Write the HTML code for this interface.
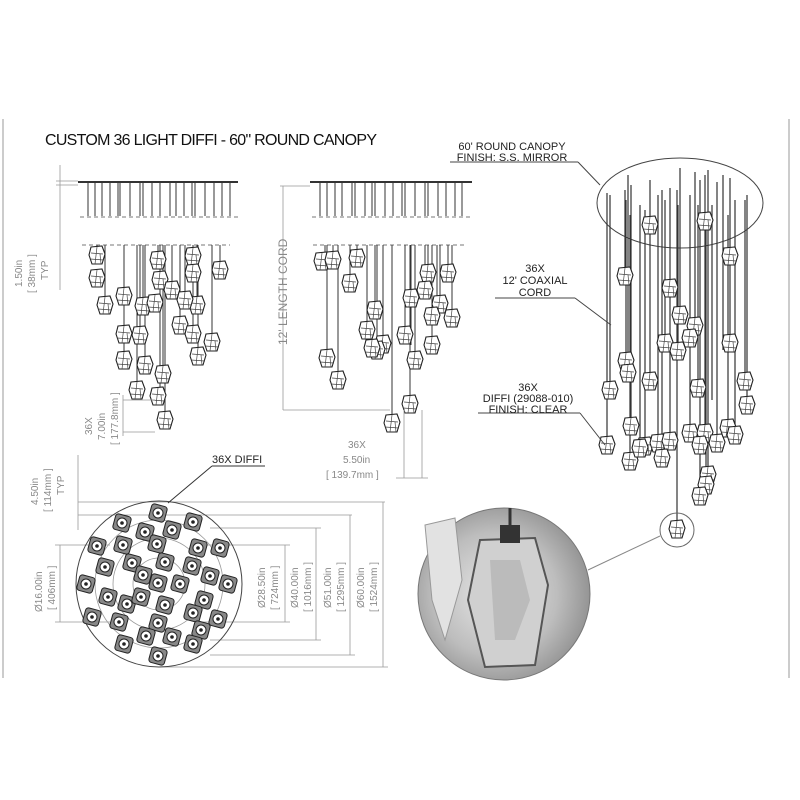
<!DOCTYPE html>
<html><head><meta charset="utf-8"><style>
html,body{margin:0;padding:0;background:#fff;width:800px;height:800px;overflow:hidden}
svg{display:block}
text{font-family:"Liberation Sans",sans-serif}
</style></head><body>
<svg width="800" height="800" viewBox="0 0 800 800" xmlns="http://www.w3.org/2000/svg" xmlns:xlink="http://www.w3.org/1999/xlink">
<defs>
<radialGradient id="ph" cx="0.45" cy="0.5" r="0.6">
<stop offset="0" stop-color="#e8e8e8"/><stop offset="0.6" stop-color="#bdbdbd"/><stop offset="1" stop-color="#8a8a8a"/>
</radialGradient>
<g id="p">
<path d="M-6 0 L5 -1 L8 7 L5 17 L-5 17 L-8 8 Z" fill="#fff" stroke="#222" stroke-width="1.1"/>
<path d="M-6 6 L6 7 M0 0 L-2 17 M-7 12 L7 13 M3 7 L4 17" stroke="#444" stroke-width="0.7" fill="none"/>
</g>
<g id="q">
<rect x="-8" y="-8" width="16" height="16" rx="3" fill="#888" stroke="#222" transform="rotate(15)"/>
<circle r="5" fill="#fff" stroke="#222"/><circle r="1.8" fill="#222"/>
</g>
</defs>
<line x1="3" y1="119" x2="3" y2="678" stroke="#ccc" stroke-width="2"/>
<line x1="789" y1="119" x2="789" y2="678" stroke="#ccc" stroke-width="2"/>
<text x="45" y="145" font-size="16" fill="#111" textLength="332">CUSTOM 36 LIGHT DIFFI - 60" ROUND CANOPY</text>

<!-- elevations -->
<g stroke="#333" fill="none">
<line x1="78" y1="182" x2="238" y2="182" stroke-width="2"/>
<line x1="310" y1="182" x2="472" y2="182" stroke-width="2"/>
<path d="M88 183V216M95 183V216M102 183V216M110 183V216M118 183V216M120 183V216M130 183V216M140 183V216M143 183V216M152 183V216M160 183V216M170 183V216M176 183V216M184 183V216M192 183V216M195 183V216M205 183V216M214 183V216M222 183V216M230 183V216"/>
<path d="M320 183V216M327 183V216M335 183V216M342 183V216M352 183V216M355 183V216M365 183V216M372 183V216M375 183V216M385 183V216M393 183V216M402 183V216M405 183V216M415 183V216M425 183V216M428 183V216M438 183V216M446 183V216M455 183V216M462 183V216"/>
<g stroke="#777" stroke-dasharray="4 3"><line x1="80" y1="217" x2="238" y2="217"/><line x1="82" y1="245" x2="230" y2="245"/><line x1="312" y1="217" x2="472" y2="217"/><line x1="313" y1="245" x2="465" y2="245"/></g>
<path d="M97 245V252M105 245V300M124 245V330M143 245V300M140 245V330M124 245V355M158 245V255M160 245V390M165 245V415M172 245V285M180 245V320M193 245V270M220 245V265M197 245V300M193 245V330M198 245V350M212 245V340M163 245V370M137 245V385M185 245V295M145 245V360"/>
<path d="M325 245V258M333 245V258M357 245V255M350 245V280M375 245V305M392 245V420M383 245V340M327 245V355M338 245V375M377 245V345M405 245V330M411 245V345M415 245V355M428 245V268M425 245V285M448 245V268M440 245V300M437 245V310M452 245V315M432 245V340M410 245V400M367 245V325"/>
</g>
<g>
<use href="#p" x="97" y="247"/><use href="#p" x="97" y="270"/><use href="#p" x="105" y="297"/><use href="#p" x="124" y="288"/><use href="#p" x="143" y="298"/><use href="#p" x="124" y="326"/><use href="#p" x="140" y="327"/><use href="#p" x="124" y="352"/><use href="#p" x="145" y="357"/><use href="#p" x="158" y="252"/><use href="#p" x="160" y="272"/><use href="#p" x="172" y="282"/><use href="#p" x="180" y="317"/><use href="#p" x="193" y="248"/><use href="#p" x="193" y="265"/><use href="#p" x="220" y="262"/><use href="#p" x="197" y="297"/><use href="#p" x="193" y="326"/><use href="#p" x="198" y="348"/><use href="#p" x="212" y="334"/><use href="#p" x="158" y="388"/><use href="#p" x="165" y="412"/><use href="#p" x="163" y="366"/><use href="#p" x="137" y="382"/><use href="#p" x="185" y="292"/><use href="#p" x="155" y="295"/>
<use href="#p" x="322" y="253"/><use href="#p" x="333" y="252"/><use href="#p" x="357" y="250"/><use href="#p" x="350" y="275"/><use href="#p" x="375" y="302"/><use href="#p" x="392" y="415"/><use href="#p" x="383" y="336"/><use href="#p" x="327" y="350"/><use href="#p" x="338" y="372"/><use href="#p" x="377" y="342"/><use href="#p" x="405" y="327"/><use href="#p" x="411" y="290"/><use href="#p" x="415" y="352"/><use href="#p" x="428" y="265"/><use href="#p" x="425" y="282"/><use href="#p" x="448" y="265"/><use href="#p" x="440" y="296"/><use href="#p" x="432" y="308"/><use href="#p" x="452" y="310"/><use href="#p" x="432" y="337"/><use href="#p" x="410" y="396"/><use href="#p" x="367" y="322"/><use href="#p" x="372" y="340"/>
</g>

<!-- left dims -->
<g stroke="#999" stroke-width="0.8" fill="none">
<line x1="60" y1="165" x2="60" y2="290"/><line x1="56" y1="181" x2="78" y2="181"/><line x1="56" y1="185" x2="78" y2="185"/>
<line x1="283" y1="186" x2="283" y2="410"/><line x1="283" y1="410" x2="390" y2="410"/><line x1="280" y1="186" x2="310" y2="186"/>
<line x1="123" y1="400" x2="155" y2="400"/><line x1="123" y1="432" x2="155" y2="432"/><line x1="123" y1="395" x2="123" y2="436"/>
<line x1="404" y1="410" x2="404" y2="478"/><line x1="422" y1="410" x2="422" y2="478"/><line x1="396" y1="478" x2="428" y2="478"/>
</g>
<g fill="#888" font-size="10">
<text transform="translate(22,287) rotate(-90)">1.50in</text>
<text transform="translate(35,293) rotate(-90)">[ 38mm ]</text>
<text transform="translate(48,280) rotate(-90)">TYP</text>
<text transform="translate(287,345) rotate(-90)" font-size="12">12' LENGTH CORD</text>
<text transform="translate(92,435) rotate(-90)">36X</text>
<text transform="translate(105,440) rotate(-90)">7.00in</text>
<text transform="translate(118,445) rotate(-90)">[ 177.8mm ]</text>
<text x="348" y="448">36X</text>
<text x="343" y="463">5.50in</text>
<text x="326" y="478">[ 139.7mm ]</text>
<text transform="translate(38,505) rotate(-90)">4.50in</text>
<text transform="translate(51,512) rotate(-90)">[ 114mm ]</text>
<text transform="translate(64,495) rotate(-90)">TYP</text>
<text transform="translate(42,612) rotate(-90)">Ø16.00in</text>
<text transform="translate(55,610) rotate(-90)">[ 406mm ]</text>
<text transform="translate(265,608) rotate(-90)">Ø28.50in</text>
<text transform="translate(278,610) rotate(-90)">[ 724mm ]</text>
<text transform="translate(298,608) rotate(-90)">Ø40.00in</text>
<text transform="translate(311,612) rotate(-90)">[ 1016mm ]</text>
<text transform="translate(331,608) rotate(-90)">Ø51.00in</text>
<text transform="translate(344,612) rotate(-90)">[ 1295mm ]</text>
<text transform="translate(364,608) rotate(-90)">Ø60.00in</text>
<text transform="translate(377,612) rotate(-90)">[ 1524mm ]</text>
</g>
<!-- plan -->
<g stroke="#999" stroke-width="0.8" fill="none">
<line x1="78" y1="502" x2="385" y2="502"/><line x1="78" y1="515" x2="352" y2="515"/><line x1="78" y1="455" x2="78" y2="530"/>
<line x1="60" y1="545" x2="60" y2="622"/><line x1="55" y1="545" x2="110" y2="545"/><line x1="55" y1="622" x2="110" y2="622"/>
<line x1="285" y1="545" x2="285" y2="622"/><line x1="200" y1="545" x2="290" y2="545"/><line x1="200" y1="622" x2="290" y2="622"/>
<line x1="316" y1="528" x2="316" y2="640"/><line x1="210" y1="528" x2="321" y2="528"/><line x1="210" y1="640" x2="321" y2="640"/>
<line x1="350" y1="515" x2="350" y2="655"/><line x1="210" y1="655" x2="355" y2="655"/>
<line x1="383" y1="502" x2="383" y2="667"/><line x1="160" y1="667" x2="388" y2="667"/>
<circle cx="159" cy="584" r="26"/><circle cx="159" cy="584" r="46"/><circle cx="159" cy="584" r="64"/>
</g>
<circle cx="159" cy="584" r="83" stroke="#444" fill="none" stroke-width="1"/>
<g>
<use href="#q" x="158" y="513"/><use href="#q" x="122" y="523"/><use href="#q" x="193" y="522"/><use href="#q" x="145" y="532"/><use href="#q" x="172" y="530"/><use href="#q" x="97" y="546"/><use href="#q" x="123" y="545"/><use href="#q" x="157" y="544"/><use href="#q" x="198" y="548"/><use href="#q" x="220" y="548"/><use href="#q" x="105" y="567"/><use href="#q" x="132" y="563"/><use href="#q" x="143" y="575"/><use href="#q" x="165" y="562"/><use href="#q" x="192" y="566"/><use href="#q" x="210" y="576"/><use href="#q" x="86" y="584"/><use href="#q" x="158" y="583"/><use href="#q" x="180" y="584"/><use href="#q" x="108" y="597"/><use href="#q" x="127" y="604"/><use href="#q" x="141" y="597"/><use href="#q" x="165" y="605"/><use href="#q" x="204" y="600"/><use href="#q" x="193" y="613"/><use href="#q" x="92" y="617"/><use href="#q" x="119" y="622"/><use href="#q" x="158" y="623"/><use href="#q" x="218" y="619"/><use href="#q" x="146" y="636"/><use href="#q" x="172" y="637"/><use href="#q" x="201" y="630"/><use href="#q" x="124" y="644"/><use href="#q" x="193" y="644"/><use href="#q" x="158" y="656"/><use href="#q" x="228" y="584"/>
</g>
<line x1="168" y1="503" x2="212" y2="466" stroke="#333"/><line x1="212" y1="466" x2="265" y2="466" stroke="#333"/>
<text x="212" y="463" font-size="11" fill="#222">36X DIFFI</text>

<!-- right 3D -->
<ellipse cx="680" cy="203" rx="83" ry="45" fill="none" stroke="#444"/>
<g stroke="#333" stroke-width="1.2" fill="none">
<path d="M650 180V222M705 175V218M730 178V253M625 190V273M670 188V285M680 168V312M695 172V323M665 200V340M690 195V335M678 205V348M730 185V340M626 200V358M628 175V370M610 195V387M650 210V378M698 205V385M745 200V378M747 195V402M631 185V423M645 210V443M658 195V440M670 210V438M690 200V430M705 190V430M717 182V440M728 215V425M735 200V432M607 193V442M630 215V458M700 215V442M708 170V472M706 215V482M700 180V493M677 190V528M640 205V445M662 190V455M712 205V400M723 175V350"/>
</g>
<g>
<use href="#p" x="650" y="217"/><use href="#p" x="705" y="213"/><use href="#p" x="730" y="248"/><use href="#p" x="625" y="268"/><use href="#p" x="670" y="280"/><use href="#p" x="680" y="307"/><use href="#p" x="695" y="318"/><use href="#p" x="665" y="335"/><use href="#p" x="690" y="330"/><use href="#p" x="678" y="343"/><use href="#p" x="730" y="335"/><use href="#p" x="626" y="353"/><use href="#p" x="628" y="365"/><use href="#p" x="610" y="382"/><use href="#p" x="650" y="373"/><use href="#p" x="698" y="380"/><use href="#p" x="745" y="373"/><use href="#p" x="747" y="397"/><use href="#p" x="631" y="418"/><use href="#p" x="645" y="438"/><use href="#p" x="658" y="435"/><use href="#p" x="670" y="433"/><use href="#p" x="690" y="425"/><use href="#p" x="705" y="425"/><use href="#p" x="717" y="435"/><use href="#p" x="728" y="420"/><use href="#p" x="735" y="427"/><use href="#p" x="607" y="437"/><use href="#p" x="630" y="453"/><use href="#p" x="700" y="437"/><use href="#p" x="708" y="467"/><use href="#p" x="706" y="477"/><use href="#p" x="700" y="488"/><use href="#p" x="677" y="521"/><use href="#p" x="640" y="440"/><use href="#p" x="662" y="450"/>
</g>
<g stroke="#444" fill="none">
<line x1="450" y1="162" x2="578" y2="162"/><line x1="578" y1="162" x2="600" y2="185"/>
<line x1="495" y1="298" x2="575" y2="298"/><line x1="575" y1="298" x2="611" y2="325"/>
<line x1="478" y1="413" x2="580" y2="413"/><line x1="580" y1="413" x2="605" y2="445"/>
</g>
<g font-size="11" fill="#222" text-anchor="middle">
<text x="512" y="150">60' ROUND CANOPY</text><text x="512" y="161">FINISH: S.S. MIRROR</text>
<text x="535" y="272">36X</text><text x="535" y="284">12' COAXIAL</text><text x="535" y="296">CORD</text>
<text x="528" y="391">36X</text><text x="528" y="402">DIFFI (29088-010)</text><text x="528" y="413">FINISH: CLEAR</text>
</g>
<circle cx="677" cy="530" r="17" fill="none" stroke="#666"/>
<line x1="660" y1="536" x2="588" y2="570" stroke="#888"/>
<circle cx="504" cy="594" r="86" fill="url(#ph)" stroke="#777"/>
<path d="M480 540 L535 538 L548 585 L535 665 L485 667 L468 600 Z" fill="#d0d0d0" stroke="#555" stroke-width="2"/>
<path d="M490 560 L520 560 L530 600 L515 640 L495 640 Z" fill="#bbb"/>
<rect x="500" y="525" width="20" height="18" fill="#333"/>
<path d="M425 525 L455 518 L462 580 L445 640 L432 600 Z" fill="#e2e2e2" stroke="#999"/>
<line x1="510" y1="508" x2="510" y2="526" stroke="#333" stroke-width="3"/>
</svg>
</body></html>
